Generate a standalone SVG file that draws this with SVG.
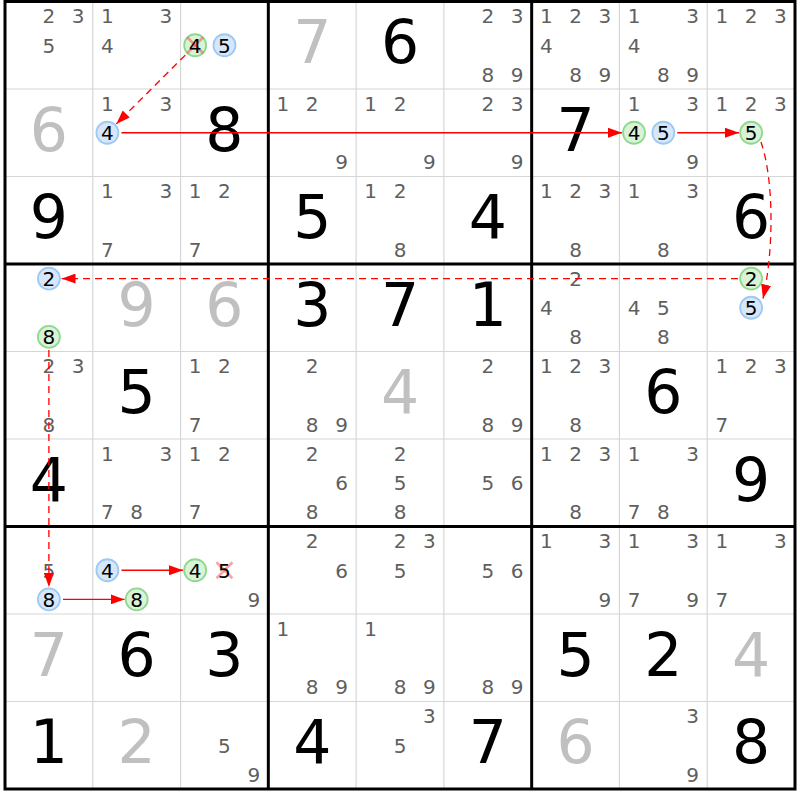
<svg xmlns="http://www.w3.org/2000/svg" width="800" height="800" viewBox="0 0 800 800">
<style>
text{font-family:"DejaVu Sans","Liberation Sans",sans-serif;text-anchor:middle}
.c{font-size:20px;fill:#5f5f5f}
.k{font-size:20px;fill:#000}
.g{font-size:60px;fill:#000}
.s{font-size:60px;fill:#c0c0c0}
.cg{fill:#d8f3d8;stroke:#8fd98f;stroke-width:1.8}
.cb{fill:#d6e7fa;stroke:#9dc9f3;stroke-width:1.8}
.x{stroke:#ff3030;stroke-opacity:0.45;stroke-width:2.5}
.thin{stroke:#d6d6d6;stroke-width:1.2}
.thick{stroke:#000;stroke-width:3;fill:none}
.ln{stroke:#ff0000;stroke-width:1.3;fill:none}
.d{stroke-dasharray:7,5}
</style>
<defs>
<marker id="ah" markerUnits="userSpaceOnUse" markerWidth="14" markerHeight="10" refX="14" refY="5" orient="auto"><path d="M0,0 L14,5 L0,10 z" fill="#ff0000"/></marker>
</defs>
<rect width="800" height="800" fill="#fff"/>
<g id="grid">
<g class="thin">
<line x1="92.78" y1="1.5" x2="92.78" y2="789"/><line x1="180.56" y1="1.5" x2="180.56" y2="789"/>
<line x1="356.11" y1="1.5" x2="356.11" y2="789"/><line x1="443.89" y1="1.5" x2="443.89" y2="789"/>
<line x1="619.44" y1="1.5" x2="619.44" y2="789"/><line x1="707.22" y1="1.5" x2="707.22" y2="789"/>
<line x1="5" y1="89" x2="795" y2="89"/><line x1="5" y1="176.5" x2="795" y2="176.5"/>
<line x1="5" y1="351.5" x2="795" y2="351.5"/><line x1="5" y1="439" x2="795" y2="439"/>
<line x1="5" y1="614" x2="795" y2="614"/><line x1="5" y1="701.5" x2="795" y2="701.5"/>
</g>
<g class="thick">
<rect x="5" y="1.5" width="790" height="787.5"/>
<line x1="268.33" y1="1.5" x2="268.33" y2="789"/><line x1="531.67" y1="1.5" x2="531.67" y2="789"/>
<line x1="5" y1="264" x2="795" y2="264"/><line x1="5" y1="526.5" x2="795" y2="526.5"/>
</g>
</g>
<g id="cells">
<!-- row 0 -->
<g id="r0c0" transform="translate(5,1.5)"><text class="c" x="43.9" y="21.9">2</text><text class="c" x="73.2" y="21.9">3</text><text class="c" x="43.9" y="51.1">5</text></g>
<g id="r0c1" transform="translate(92.78,1.5)"><text class="c" x="14.6" y="21.9">1</text><text class="c" x="73.2" y="21.9">3</text><text class="c" x="14.6" y="51.1">4</text></g>
<g id="r0c2" transform="translate(180.56,1.5)"><circle class="cg" cx="14.6" cy="43.75" r="11"/><line class="x" x1="6.6" y1="35.75" x2="22.6" y2="51.75"/><line class="x" x1="22.6" y1="35.75" x2="6.6" y2="51.75"/><text class="k" x="14.6" y="51.1">4</text><circle class="cb" cx="43.9" cy="43.75" r="11"/><text class="k" x="43.9" y="51.1">5</text></g>
<g id="r0c3" transform="translate(268.33,1.5)"><text class="s" x="43.9" y="61.5">7</text></g>
<g id="r0c4" transform="translate(356.11,1.5)"><text class="g" x="43.9" y="61.5">6</text></g>
<g id="r0c5" transform="translate(443.89,1.5)"><text class="c" x="43.9" y="21.9">2</text><text class="c" x="73.2" y="21.9">3</text><text class="c" x="43.9" y="80.2">8</text><text class="c" x="73.2" y="80.2">9</text></g>
<g id="r0c6" transform="translate(531.67,1.5)"><text class="c" x="14.6" y="21.9">1</text><text class="c" x="43.9" y="21.9">2</text><text class="c" x="73.2" y="21.9">3</text><text class="c" x="14.6" y="51.1">4</text><text class="c" x="43.9" y="80.2">8</text><text class="c" x="73.2" y="80.2">9</text></g>
<g id="r0c7" transform="translate(619.44,1.5)"><text class="c" x="14.6" y="21.9">1</text><text class="c" x="73.2" y="21.9">3</text><text class="c" x="14.6" y="51.1">4</text><text class="c" x="43.9" y="80.2">8</text><text class="c" x="73.2" y="80.2">9</text></g>
<g id="r0c8" transform="translate(707.22,1.5)"><text class="c" x="14.6" y="21.9">1</text><text class="c" x="43.9" y="21.9">2</text><text class="c" x="73.2" y="21.9">3</text></g>
<!-- row 1 -->
<g id="r1c0" transform="translate(5,89)"><text class="s" x="43.9" y="61.5">6</text></g>
<g id="r1c1" transform="translate(92.78,89)"><text class="c" x="14.6" y="21.9">1</text><text class="c" x="73.2" y="21.9">3</text><circle class="cb" cx="14.6" cy="43.75" r="11"/><text class="k" x="14.6" y="51.1">4</text></g>
<g id="r1c2" transform="translate(180.56,89)"><text class="g" x="43.9" y="61.5">8</text></g>
<g id="r1c3" transform="translate(268.33,89)"><text class="c" x="14.6" y="21.9">1</text><text class="c" x="43.9" y="21.9">2</text><text class="c" x="73.2" y="80.2">9</text></g>
<g id="r1c4" transform="translate(356.11,89)"><text class="c" x="14.6" y="21.9">1</text><text class="c" x="43.9" y="21.9">2</text><text class="c" x="73.2" y="80.2">9</text></g>
<g id="r1c5" transform="translate(443.89,89)"><text class="c" x="43.9" y="21.9">2</text><text class="c" x="73.2" y="21.9">3</text><text class="c" x="73.2" y="80.2">9</text></g>
<g id="r1c6" transform="translate(531.67,89)"><text class="g" x="43.9" y="61.5">7</text></g>
<g id="r1c7" transform="translate(619.44,89)"><text class="c" x="14.6" y="21.9">1</text><text class="c" x="73.2" y="21.9">3</text><circle class="cg" cx="14.6" cy="43.75" r="11"/><text class="k" x="14.6" y="51.1">4</text><circle class="cb" cx="43.9" cy="43.75" r="11"/><text class="k" x="43.9" y="51.1">5</text><text class="c" x="73.2" y="80.2">9</text></g>
<g id="r1c8" transform="translate(707.22,89)"><text class="c" x="14.6" y="21.9">1</text><text class="c" x="43.9" y="21.9">2</text><text class="c" x="73.2" y="21.9">3</text><circle class="cg" cx="43.9" cy="43.75" r="11"/><text class="k" x="43.9" y="51.1">5</text></g>
<!-- row 2 -->
<g id="r2c0" transform="translate(5,176.5)"><text class="g" x="43.9" y="61.5">9</text></g>
<g id="r2c1" transform="translate(92.78,176.5)"><text class="c" x="14.6" y="21.9">1</text><text class="c" x="73.2" y="21.9">3</text><text class="c" x="14.6" y="80.2">7</text></g>
<g id="r2c2" transform="translate(180.56,176.5)"><text class="c" x="14.6" y="21.9">1</text><text class="c" x="43.9" y="21.9">2</text><text class="c" x="14.6" y="80.2">7</text></g>
<g id="r2c3" transform="translate(268.33,176.5)"><text class="g" x="43.9" y="61.5">5</text></g>
<g id="r2c4" transform="translate(356.11,176.5)"><text class="c" x="14.6" y="21.9">1</text><text class="c" x="43.9" y="21.9">2</text><text class="c" x="43.9" y="80.2">8</text></g>
<g id="r2c5" transform="translate(443.89,176.5)"><text class="g" x="43.9" y="61.5">4</text></g>
<g id="r2c6" transform="translate(531.67,176.5)"><text class="c" x="14.6" y="21.9">1</text><text class="c" x="43.9" y="21.9">2</text><text class="c" x="73.2" y="21.9">3</text><text class="c" x="43.9" y="80.2">8</text></g>
<g id="r2c7" transform="translate(619.44,176.5)"><text class="c" x="14.6" y="21.9">1</text><text class="c" x="73.2" y="21.9">3</text><text class="c" x="43.9" y="80.2">8</text></g>
<g id="r2c8" transform="translate(707.22,176.5)"><text class="g" x="43.9" y="61.5">6</text></g>
<!-- row 3 -->
<g id="r3c0" transform="translate(5,264)"><circle class="cb" cx="43.9" cy="14.6" r="11"/><text class="k" x="43.9" y="21.9">2</text><circle class="cg" cx="43.9" cy="72.9" r="11"/><text class="k" x="43.9" y="80.2">8</text></g>
<g id="r3c1" transform="translate(92.78,264)"><text class="s" x="43.9" y="61.5">9</text></g>
<g id="r3c2" transform="translate(180.56,264)"><text class="s" x="43.9" y="61.5">6</text></g>
<g id="r3c3" transform="translate(268.33,264)"><text class="g" x="43.9" y="61.5">3</text></g>
<g id="r3c4" transform="translate(356.11,264)"><text class="g" x="43.9" y="61.5">7</text></g>
<g id="r3c5" transform="translate(443.89,264)"><text class="g" x="43.9" y="61.5">1</text></g>
<g id="r3c6" transform="translate(531.67,264)"><text class="c" x="43.9" y="21.9">2</text><text class="c" x="14.6" y="51.1">4</text><text class="c" x="43.9" y="80.2">8</text></g>
<g id="r3c7" transform="translate(619.44,264)"><text class="c" x="14.6" y="51.1">4</text><text class="c" x="43.9" y="51.1">5</text><text class="c" x="43.9" y="80.2">8</text></g>
<g id="r3c8" transform="translate(707.22,264)"><circle class="cg" cx="43.9" cy="14.6" r="11"/><text class="k" x="43.9" y="21.9">2</text><circle class="cb" cx="43.9" cy="43.75" r="11"/><text class="k" x="43.9" y="51.1">5</text></g>
<!-- row 4 -->
<g id="r4c0" transform="translate(5,351.5)"><text class="c" x="43.9" y="21.9">2</text><text class="c" x="73.2" y="21.9">3</text><text class="c" x="43.9" y="80.2">8</text></g>
<g id="r4c1" transform="translate(92.78,351.5)"><text class="g" x="43.9" y="61.5">5</text></g>
<g id="r4c2" transform="translate(180.56,351.5)"><text class="c" x="14.6" y="21.9">1</text><text class="c" x="43.9" y="21.9">2</text><text class="c" x="14.6" y="80.2">7</text></g>
<g id="r4c3" transform="translate(268.33,351.5)"><text class="c" x="43.9" y="21.9">2</text><text class="c" x="43.9" y="80.2">8</text><text class="c" x="73.2" y="80.2">9</text></g>
<g id="r4c4" transform="translate(356.11,351.5)"><text class="s" x="43.9" y="61.5">4</text></g>
<g id="r4c5" transform="translate(443.89,351.5)"><text class="c" x="43.9" y="21.9">2</text><text class="c" x="43.9" y="80.2">8</text><text class="c" x="73.2" y="80.2">9</text></g>
<g id="r4c6" transform="translate(531.67,351.5)"><text class="c" x="14.6" y="21.9">1</text><text class="c" x="43.9" y="21.9">2</text><text class="c" x="73.2" y="21.9">3</text><text class="c" x="43.9" y="80.2">8</text></g>
<g id="r4c7" transform="translate(619.44,351.5)"><text class="g" x="43.9" y="61.5">6</text></g>
<g id="r4c8" transform="translate(707.22,351.5)"><text class="c" x="14.6" y="21.9">1</text><text class="c" x="43.9" y="21.9">2</text><text class="c" x="73.2" y="21.9">3</text><text class="c" x="14.6" y="80.2">7</text></g>
<!-- row 5 -->
<g id="r5c0" transform="translate(5,439)"><text class="g" x="43.9" y="61.5">4</text></g>
<g id="r5c1" transform="translate(92.78,439)"><text class="c" x="14.6" y="21.9">1</text><text class="c" x="73.2" y="21.9">3</text><text class="c" x="14.6" y="80.2">7</text><text class="c" x="43.9" y="80.2">8</text></g>
<g id="r5c2" transform="translate(180.56,439)"><text class="c" x="14.6" y="21.9">1</text><text class="c" x="43.9" y="21.9">2</text><text class="c" x="14.6" y="80.2">7</text></g>
<g id="r5c3" transform="translate(268.33,439)"><text class="c" x="43.9" y="21.9">2</text><text class="c" x="73.2" y="51.1">6</text><text class="c" x="43.9" y="80.2">8</text></g>
<g id="r5c4" transform="translate(356.11,439)"><text class="c" x="43.9" y="21.9">2</text><text class="c" x="43.9" y="51.1">5</text><text class="c" x="43.9" y="80.2">8</text></g>
<g id="r5c5" transform="translate(443.89,439)"><text class="c" x="43.9" y="51.1">5</text><text class="c" x="73.2" y="51.1">6</text></g>
<g id="r5c6" transform="translate(531.67,439)"><text class="c" x="14.6" y="21.9">1</text><text class="c" x="43.9" y="21.9">2</text><text class="c" x="73.2" y="21.9">3</text><text class="c" x="43.9" y="80.2">8</text></g>
<g id="r5c7" transform="translate(619.44,439)"><text class="c" x="14.6" y="21.9">1</text><text class="c" x="73.2" y="21.9">3</text><text class="c" x="14.6" y="80.2">7</text><text class="c" x="43.9" y="80.2">8</text></g>
<g id="r5c8" transform="translate(707.22,439)"><text class="g" x="43.9" y="61.5">9</text></g>
<!-- row 6 -->
<g id="r6c0" transform="translate(5,526.5)"><text class="c" x="43.9" y="51.1">5</text><circle class="cb" cx="43.9" cy="72.9" r="11"/><text class="k" x="43.9" y="80.2">8</text></g>
<g id="r6c1" transform="translate(92.78,526.5)"><circle class="cb" cx="14.6" cy="43.75" r="11"/><text class="k" x="14.6" y="51.1">4</text><circle class="cg" cx="43.9" cy="72.9" r="11"/><text class="k" x="43.9" y="80.2">8</text></g>
<g id="r6c2" transform="translate(180.56,526.5)"><circle class="cg" cx="14.6" cy="43.75" r="11"/><text class="k" x="14.6" y="51.1">4</text><line class="x" x1="35.9" y1="35.75" x2="51.9" y2="51.75"/><line class="x" x1="51.9" y1="35.75" x2="35.9" y2="51.75"/><text class="k" x="43.9" y="51.1">5</text><text class="c" x="73.2" y="80.2">9</text></g>
<g id="r6c3" transform="translate(268.33,526.5)"><text class="c" x="43.9" y="21.9">2</text><text class="c" x="73.2" y="51.1">6</text></g>
<g id="r6c4" transform="translate(356.11,526.5)"><text class="c" x="43.9" y="21.9">2</text><text class="c" x="73.2" y="21.9">3</text><text class="c" x="43.9" y="51.1">5</text></g>
<g id="r6c5" transform="translate(443.89,526.5)"><text class="c" x="43.9" y="51.1">5</text><text class="c" x="73.2" y="51.1">6</text></g>
<g id="r6c6" transform="translate(531.67,526.5)"><text class="c" x="14.6" y="21.9">1</text><text class="c" x="73.2" y="21.9">3</text><text class="c" x="73.2" y="80.2">9</text></g>
<g id="r6c7" transform="translate(619.44,526.5)"><text class="c" x="14.6" y="21.9">1</text><text class="c" x="73.2" y="21.9">3</text><text class="c" x="14.6" y="80.2">7</text><text class="c" x="73.2" y="80.2">9</text></g>
<g id="r6c8" transform="translate(707.22,526.5)"><text class="c" x="14.6" y="21.9">1</text><text class="c" x="73.2" y="21.9">3</text><text class="c" x="14.6" y="80.2">7</text></g>
<!-- row 7 -->
<g id="r7c0" transform="translate(5,614)"><text class="s" x="43.9" y="61.5">7</text></g>
<g id="r7c1" transform="translate(92.78,614)"><text class="g" x="43.9" y="61.5">6</text></g>
<g id="r7c2" transform="translate(180.56,614)"><text class="g" x="43.9" y="61.5">3</text></g>
<g id="r7c3" transform="translate(268.33,614)"><text class="c" x="14.6" y="21.9">1</text><text class="c" x="43.9" y="80.2">8</text><text class="c" x="73.2" y="80.2">9</text></g>
<g id="r7c4" transform="translate(356.11,614)"><text class="c" x="14.6" y="21.9">1</text><text class="c" x="43.9" y="80.2">8</text><text class="c" x="73.2" y="80.2">9</text></g>
<g id="r7c5" transform="translate(443.89,614)"><text class="c" x="43.9" y="80.2">8</text><text class="c" x="73.2" y="80.2">9</text></g>
<g id="r7c6" transform="translate(531.67,614)"><text class="g" x="43.9" y="61.5">5</text></g>
<g id="r7c7" transform="translate(619.44,614)"><text class="g" x="43.9" y="61.5">2</text></g>
<g id="r7c8" transform="translate(707.22,614)"><text class="s" x="43.9" y="61.5">4</text></g>
<!-- row 8 -->
<g id="r8c0" transform="translate(5,701.5)"><text class="g" x="43.9" y="61.5">1</text></g>
<g id="r8c1" transform="translate(92.78,701.5)"><text class="s" x="43.9" y="61.5">2</text></g>
<g id="r8c2" transform="translate(180.56,701.5)"><text class="c" x="43.9" y="51.1">5</text><text class="c" x="73.2" y="80.2">9</text></g>
<g id="r8c3" transform="translate(268.33,701.5)"><text class="g" x="43.9" y="61.5">4</text></g>
<g id="r8c4" transform="translate(356.11,701.5)"><text class="c" x="73.2" y="21.9">3</text><text class="c" x="43.9" y="51.1">5</text></g>
<g id="r8c5" transform="translate(443.89,701.5)"><text class="g" x="43.9" y="61.5">7</text></g>
<g id="r8c6" transform="translate(531.67,701.5)"><text class="s" x="43.9" y="61.5">6</text></g>
<g id="r8c7" transform="translate(619.44,701.5)"><text class="c" x="73.2" y="21.9">3</text><text class="c" x="73.2" y="80.2">9</text></g>
<g id="r8c8" transform="translate(707.22,701.5)"><text class="g" x="43.9" y="61.5">8</text></g>
</g>
<g id="connectors" marker-end="url(#ah)">
<line class="ln d" x1="185.3" y1="55.1" x2="116.3" y2="123.9"/>
<line class="ln" x1="121.4" y1="132.75" x2="622" y2="132.75"/>
<line class="ln" x1="677.3" y1="132.75" x2="739" y2="132.75"/>
<path class="ln d" d="M761,142 C774,180 774,250 763,298.5"/>
<line class="ln d" x1="738" y1="278.6" x2="61.5" y2="278.6"/>
<line class="ln d" x1="48.89" y1="350" x2="48.89" y2="587"/>
<line class="ln" x1="63" y1="599.4" x2="124.5" y2="599.4"/>
<line class="ln" x1="121.5" y1="570.25" x2="183" y2="570.25"/>
</g>
</svg>
